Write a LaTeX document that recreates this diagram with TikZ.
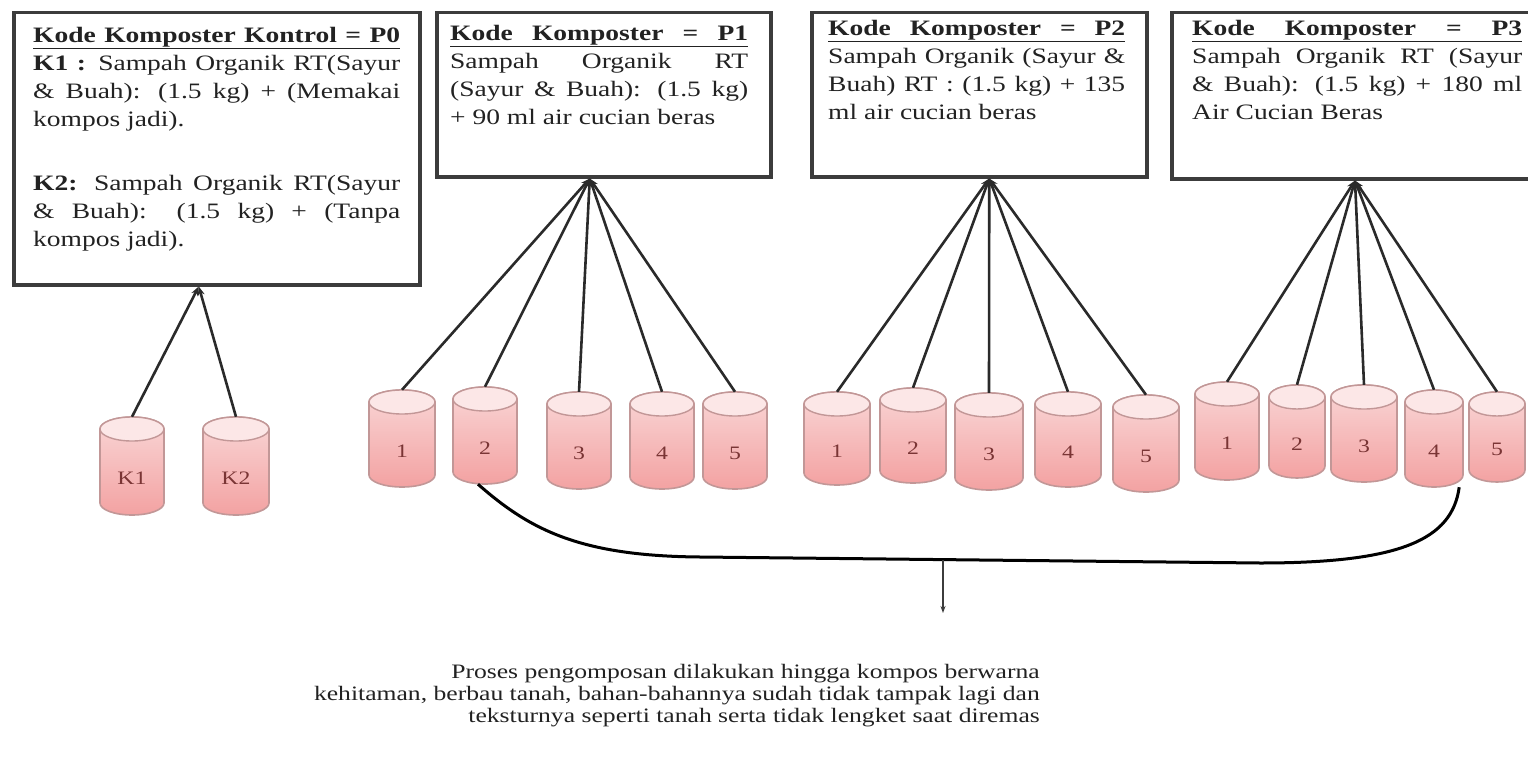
\documentclass[tikz,border=0pt]{standalone}
\usepackage{fontspec}
\setmainfont{Liberation Serif}[FakeStretch=1.25]
\usetikzlibrary{arrows.meta}

\definecolor{boxline}{HTML}{3C3C3C}
\definecolor{linec}{HTML}{2A2A2A}
\definecolor{txt}{HTML}{222222}
\definecolor{drumline}{HTML}{C29797}
\definecolor{drumhi}{HTML}{F9D6D6}
\definecolor{drumlo}{HTML}{F3A2A2}
\definecolor{drumcap}{HTML}{FCE7E7}
\definecolor{drumtxt}{HTML}{7A3535}

% one justified line of a given width
\newcommand\jl[2]{\makebox[#1][s]{#2}}

% a pink drum: name, centre x, top y, bottom y, half width, label
\newcommand\drum[6]{%
  \path[drumbody] ({#2-#5},{#3+12}) -- ({#2-#5},{#4-12})
    arc[start angle=180,end angle=0,x radius=#5,y radius=12]
    -- ({#2+#5},{#3+12})
    arc[start angle=0,end angle=-180,x radius=#5,y radius=12] -- cycle;
  \path[drumtop] (#2,{#3+12}) ellipse[x radius=#5,y radius=12];
  \node[drumlbl, minimum width={2*#5}, minimum height={#4-#3}] (#1) at (#2,{(#3+#4)/2}) {#6};
}

\tikzset{
  box/.style={draw=boxline, line width=3.5pt, fill=white, inner sep=0pt, anchor=north west},
  boxtext/.style={inner sep=0pt, anchor=north west, align=left, text=txt,
    font=\fontsize{22}{28}\selectfont},
  conn/.style={draw=linec, line width=2.6pt, -{Stealth[length=9pt,width=7pt]}},
  curve/.style={draw=black, line width=3pt},
  notearrow/.style={draw=boxline, line width=1.2pt, -{Stealth[length=7pt,width=5pt]}},
  drumbody/.style={draw=drumline, line width=1.6pt, top color=drumhi, bottom color=drumlo},
  drumtop/.style={draw=drumline, line width=1.4pt, fill=drumcap},
  drumlbl/.style={inner sep=0pt, text=drumtxt, font=\fontsize{19}{19}\selectfont,
    text height=37pt, text depth=0pt},
  note/.style={inner sep=0pt, anchor=north east, align=right, text=txt,
    font=\fontsize{20.5}{22}\selectfont},
}

\begin{document}
\begin{tikzpicture}[x=1pt,y=-1pt]
\useasboundingbox (0,0) rectangle (1528,757);
\clip (0,0) rectangle (1528,757);
\fill[white] (0,0) rectangle (1528,757);

% treatment boxes
\node[box, minimum width=406pt, minimum height=272pt] (p0) at (12,11) {};
\node[box, minimum width=334pt, minimum height=164pt] (p1) at (435,11) {};
\node[box, minimum width=335pt, minimum height=164pt] (p2) at (810,11) {};
\node[box, minimum width=375pt, minimum height=166pt] (p3) at (1170,11) {};

\node[boxtext] (p0t) at (33,27) {%
  \underline{\jl{367pt}{\bfseries Kode Komposter Kontrol = P0}}\\
  \jl{367pt}{\textbf{K1 :} Sampah Organik RT(Sayur}\\
  \jl{367pt}{\& Buah): (1.5 kg) + (Memakai}\\
  kompos jadi).\\[36pt]
  \jl{367pt}{\textbf{K2:} Sampah Organik RT(Sayur}\\
  \jl{367pt}{\& Buah): (1.5 kg) + (Tanpa}\\
  kompos jadi).};

\node[boxtext] (p1t) at (450,25) {%
  \underline{\jl{298pt}{\bfseries Kode Komposter = P1}}\\
  \jl{298pt}{Sampah Organik RT}\\
  \jl{298pt}{(Sayur \& Buah): (1.5 kg)}\\
  + 90 ml air cucian beras};

\node[boxtext] (p2t) at (828,20) {%
  \underline{\jl{297pt}{\bfseries Kode Komposter = P2}}\\
  \jl{297pt}{Sampah Organik (Sayur \&}\\
  \jl{297pt}{Buah) RT : (1.5 kg) + 135}\\
  ml air cucian beras};

\node[boxtext] (p3t) at (1192,20) {%
  \underline{\jl{330pt}{\bfseries Kode Komposter = P3}}\\
  \jl{330pt}{Sampah Organik RT (Sayur}\\
  \jl{330pt}{\& Buah): (1.5 kg) + 180 ml}\\
  Air Cucian Beras};

% drums
\drum{k1}{132}{417}{515}{32}{K1}
\drum{k2}{236}{417}{515}{33}{K2}
\drum{a1}{402}{390}{487}{33}{1}
\drum{a2}{485}{387}{484}{32}{2}
\drum{a3}{579}{392}{489}{32}{3}
\drum{a4}{662}{392}{489}{32}{4}
\drum{a5}{735}{392}{489}{32}{5}
\drum{b1}{837}{392}{485}{33}{1}
\drum{b2}{913}{388}{483}{33}{2}
\drum{b3}{989}{393}{490}{34}{3}
\drum{b4}{1068}{392}{487}{33}{4}
\drum{b5}{1146}{395}{492}{33}{5}
\drum{c1}{1227}{382}{480}{32}{1}
\drum{c2}{1297}{385}{478}{28}{2}
\drum{c3}{1364}{385}{482}{33}{3}
\drum{c4}{1434}{390}{487}{29}{4}
\drum{c5}{1497}{392}{482}{28}{5}

% fan-in points under each box
\coordinate (p0a) at ([xshift=-18pt]p0.south);
\coordinate (p1a) at ([xshift=-14pt]p1.south);
\coordinate (p2a) at ([xshift=10pt]p2.south);
\coordinate (p3a) at ([xshift=185pt]p3.south west);

\foreach \d in {k1,k2} \draw[conn] (\d.north) -- (p0a);
\foreach \d in {a1,a2,a3,a4,a5} \draw[conn] (\d.north) -- (p1a);
\foreach \d in {b1,b2,b3,b4,b5} \draw[conn] (\d.north) -- (p2a);
\foreach \d in {c1,c2,c3,c4,c5} \draw[conn] (\d.north) -- (p3a);

% brace-like curve gathering the drums
\draw[curve] ([xshift=-7pt]a2.south) .. controls (530,530) and (580,556) .. (700,557)
  -- (1260,563) .. controls (1400,563) and (1452,540) .. ([xshift=-4pt]c4.south east);
\coordinate (j) at (943,560);
\coordinate (jt) at (943,613);
\draw[notearrow] (j) -- (jt);

\node[note] (note) at (1040,664) {%
  Proses pengomposan dilakukan hingga kompos berwarna\\
  kehitaman, berbau tanah, bahan-bahannya sudah tidak tampak lagi dan\\
  teksturnya seperti tanah serta tidak lengket saat diremas};
\end{tikzpicture}
\end{document}
